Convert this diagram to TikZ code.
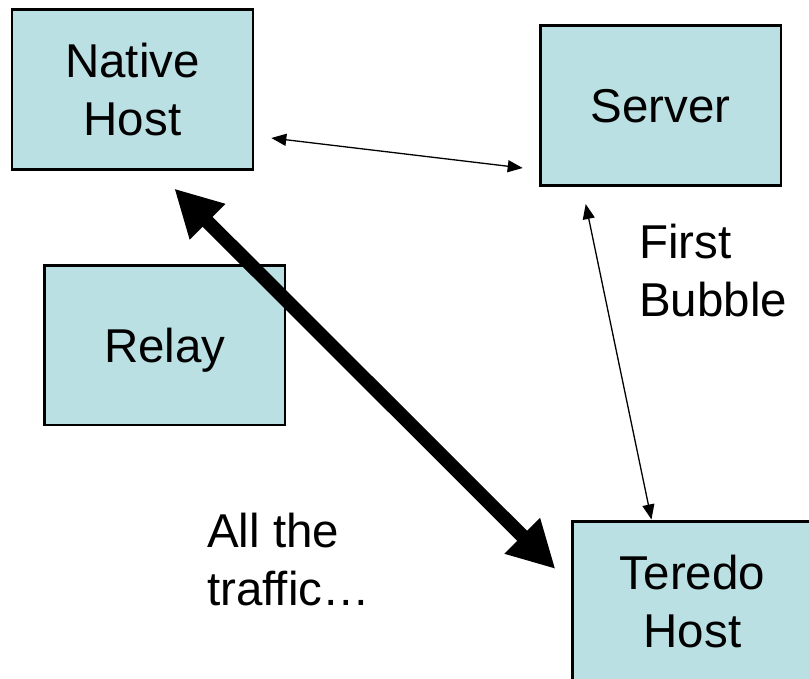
\documentclass[tikz,border=0pt]{standalone}
\usepackage{fontspec}
\setmainfont{Liberation Sans}
\usetikzlibrary{arrows.meta,calc}
\definecolor{boxfill}{RGB}{187,224,227}
\tikzset{
  hostbox/.style={draw=black, line width=2.6pt, fill=boxfill,
    minimum width=240.5pt, minimum height=159.5pt, inner sep=0pt,
    align=center, text depth=0pt},
  notetext/.style={anchor=west, inner sep=0pt, align=left, text depth=0pt},
  thinlink/.style={line width=1.3pt,
    {Triangle[length=15pt,width=12pt]}-{Triangle[length=15pt,width=12pt]}},
  heavylink/.style={line width=14pt,
    {Triangle[length=47pt,width=47pt]}-{Triangle[length=47pt,width=47pt]}},
}
\begin{document}
\begin{tikzpicture}[x=1pt,y=-1pt,font=\fontsize{47.5}{58}\selectfont]
\useasboundingbox (0,0) rectangle (809,678);

% boxes
\node[hostbox, minimum width=241pt] (nh) at (132.5,89.5) {Native\\Host};
\node[hostbox] (srv) at (660.75,105.5) {Server};
\node[hostbox] (rly) at (164.75,345.25) {Relay};
\node[hostbox] (th) at (692.5,601) {Teredo\\Host};

% free labels
\node[notetext] (bubble) at (639,270) {First\\Bubble};
\node[notetext] (traffic) at (207,559) {All the\\traffic…};

% connector end points, kept clear of the boxes
\coordinate (nhR) at ($(nh.east)+(17,48.5)$);
\coordinate (srvL) at ($(srv.west)+(-16.5,62.5)$);
\coordinate (srvB) at ($(srv.south west)+(46.5,17.5)$);
\coordinate (thT) at ($(th.north west)+(80.5,-0.5)$);
\coordinate (nhB) at ($(nh.south east)+(-80,18)$);
\coordinate (thL) at ($(th.west)+(-15.5,-32)$);

% connectors
\draw[thinlink] (nhR) -- (srvL);
\draw[thinlink] (srvB) -- (thT);
\draw[heavylink] (nhB) -- (thL);
\end{tikzpicture}
\end{document}
